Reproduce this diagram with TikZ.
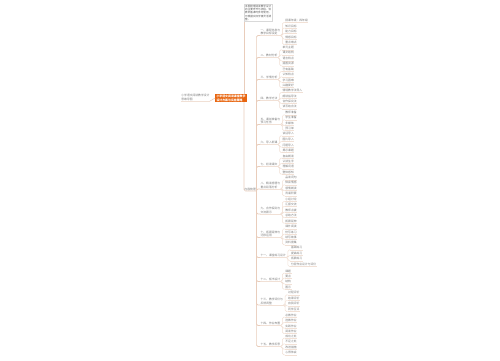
\documentclass[tikz,border=0pt]{standalone}
\usepackage{fontspec}
\newfontfamily\cjk{Noto Sans CJK SC}
\usetikzlibrary{backgrounds}
\definecolor{lc}{HTML}{E9CDBB}
\definecolor{uc}{HTML}{F1E0D5}
\definecolor{tc}{HTML}{7A7A7A}
\definecolor{rootc}{HTML}{E8650F}
\newcommand\mmbranch[4]{%
  \node[lvtwo] (b#1) at (260,#3) {#2};
  \draw[ul] (b#1.south west) -- (b#1.south east);
  \draw[conn] (hub.south east) |- (b#1.south west);
  \path (b#1.south east) ++(4,0) coordinate (b#1x);
  \foreach \t/\yy [count=\i] in {#4} {
    \node[leaf] (b#1c\i) at (b#1x |- 0,\yy) {\t};
    \draw[ul] (b#1c\i.south west) -- (b#1c\i.south east);
    \draw[cconn] (b#1.south east) -- ++(1.5,0) |- (b#1c\i.south west);
  }%
}
\begin{document}
\begin{tikzpicture}[x=1pt,y=-1pt,
  every node/.style={font=\cjk\fontsize{2.8}{3.5}\selectfont, text=tc, inner sep=0.4pt},
  conn/.style={draw=lc, line width=0.6pt, rounded corners=1.5pt},
  cconn/.style={draw=uc, line width=0.5pt, rounded corners=1.5pt},
  ul/.style={draw=uc, line width=0.4pt},
  lvtwo/.style={anchor=south west, align=left},
  leaf/.style={anchor=south west}]
\useasboundingbox (0,0) rectangle (500,360);
\begin{scope}[on background layer]
  \fill[white] (0,0) rectangle (500,360);
\end{scope}

% root and left node
\node[fill=rootc, text=white, align=left, inner sep=1.1pt,
      font=\cjk\fontsize{2.9}{3.8}\selectfont\bfseries] (root) at (231,98)
  {小学语文阅读课堂教学\\设计方案与实施策略};
\node[anchor=south east, align=left] (left) at (210,101)
  {小学语文阅读教学设计\\思维导图};
\draw[ul] (left.south west) -- (left.south east);
\draw[conn] (left.south east) -- (root.west);

% note box
\node[draw=black!15, fill=white, align=left, anchor=north west, inner sep=1pt,
      text=black!65, font=\cjk\fontsize{2.6}{3.2}\selectfont] (note) at (244,4)
  {本图梳理阅读教学设计\\的主要环节与流程，供\\教师备课时参考使用，\\可根据实际学情灵活调\\整。};

% hub
\node[anchor=south west] (hub) at (244,191) {内容梳理};

\begin{scope}[on background layer]
  \draw[conn] (root.east -| note.west) -- (note.west);
  \draw[conn] (root.east -| note.west) |- (hub.south west) -- (hub.south east);
\end{scope}

\mmbranch{1}{一、课程信息与\\教学目标设定}{35.5}{授课年级：四年级/22.5,知识目标/28,能力目标/33.5,情感目标/39,重点难点/44.5}
\mmbranch{2}{二、教材分析}{57.5}{单元主题/49.8,课文结构/54.8,语言特点/60.8,插图资源/65.8}
\mmbranch{3}{三、学情分析}{79.5}{已有基础/71.5,认知特点/76.8,学习困难/82.2,兴趣爱好/87.5}
\mmbranch{4}{四、教学方法}{100.5}{情境教学法导入/92.5,朗读指导法/98.2,合作探究法/103.5,读写结合法/108.8}
\mmbranch{5}{五、课前准备与\\预习任务}{124.5}{教师准备/114.8,学生准备/119.8,多媒体/125.5,预习单/130.5}
\mmbranch{6}{六、导入新课}{144.5}{谈话导入/135.8,图片导入/141.5,问题导入/147.2,揭示课题/152.5}
\mmbranch{7}{七、初读课文}{166.5}{自由朗读/158.2,认读生字/163.5,理解词语/168.8,整体感知/174.2}
\mmbranch{8}{八、精读感悟与\\重点段落分析}{189}{品读词句/179.8,体会情感/184.8,感情朗读/190.5,背诵积累/195.8}
\mmbranch{9}{九、合作探究与\\交流展示}{214}{小组讨论/201.5,汇报交流/206.5,教师点拨/212.2,总结方法/217.5,拓展延伸/223.2}
\mmbranch{10}{十、拓展延伸与\\迁移运用}{237.5}{课外阅读/228.8,仿写练习/234.2,续写故事/239.2,资料搜集/244.8}
\mmbranch{11}{十一、课堂练习设计}{257.5}{基础练习/249.8,提高练习/255.5,拓展练习/260.8,分层作业设计与评价/266.5}
\mmbranch{12}{十二、板书设计}{281.5}{课题/273.2,要点/278.2,结构/283.8,图示/289.2}
\mmbranch{13}{十三、教学评价与\\反馈调整}{305}{过程评价/294.8,结果评价/300.5,自我评价/305.8,同伴互评/311.5}
\mmbranch{14}{十四、作业布置}{325.5}{必做作业/317.2,选做作业/322.5,实践作业/328.2,阅读作业/333.5}
\mmbranch{15}{十五、教学反思}{346.5}{成功之处/338.2,不足之处/343.8,改进措施/349.2,心得体会/354.8}
\end{tikzpicture}
\end{document}
